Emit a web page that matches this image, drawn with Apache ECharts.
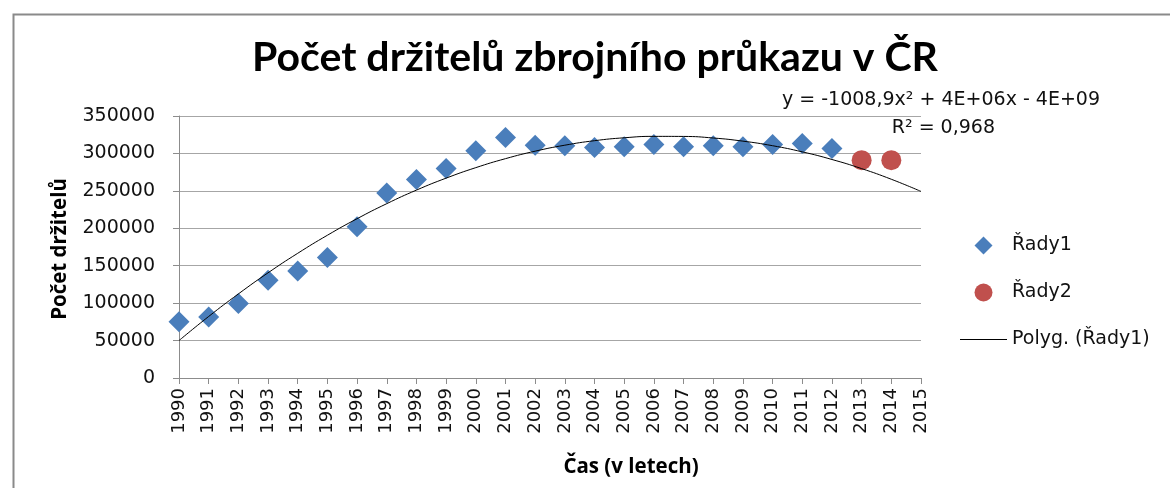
<!DOCTYPE html>
<html>
<head>
<meta charset="utf-8" />
<title>Počet držitelů zbrojního průkazu v ČR</title>
<script src="https://cdn.jsdelivr.net/npm/echarts@6/dist/echarts.min.js"></script>
<style>
  html, body { margin: 0; padding: 0; background: #fff; }
  #chart { width: 1170px; height: 488px; }
</style>
</head>
<body>
<div id="chart"></div>
<script>
// roky a počty držitelů
var roky1 = [1990, 1991, 1992, 1993, 1994, 1995, 1996, 1997, 1998, 1999, 2000, 2001,
             2002, 2003, 2004, 2005, 2006, 2007, 2008, 2009, 2010, 2011, 2012];
var rady1 = [75000, 81500, 99500, 130600, 143000, 161000, 201900, 247300, 265200, 280000, 303500, 321400,
             311000, 310200, 308000, 308800, 312000, 308800, 310200, 308800, 312000, 313300, 306700];
var roky2 = [2013, 2014];
var rady2 = [291000, 291000];
// polynomická spojnice trendu
var rokyTrend = [1990, 1991, 1992, 1993, 1994, 1995, 1996, 1997, 1998, 1999, 2000, 2001, 2002,
                 2003, 2004, 2005, 2006, 2007, 2008, 2009, 2010, 2011, 2012, 2013, 2014, 2015];
var trend = [50000, 82200, 112300, 140500, 166600, 190700, 212800, 232900, 251000, 267000, 281000, 293000, 303000,
             311000, 317000, 320900, 322800, 322700, 320600, 316400, 310300, 302100, 291900, 279700, 265500, 249250];

function pary(xs, ys) {
  var out = [];
  for (var i = 0; i < xs.length; i++) out.push([xs[i], ys[i]]);
  return out;
}

var chart = echarts.init(document.getElementById('chart'));
var font = 'DejaVu Sans';

chart.setOption({
  animation: false,
  backgroundColor: '#ffffff',
  grid: { left: 179, right: 249, top: 116, bottom: 110 },
  legend: {
    orient: 'vertical',
    left: 955,
    top: 231,
    itemWidth: 47,
    itemHeight: 18,
    itemGap: 28,
    symbolKeepAspect: true,
    textStyle: { fontFamily: font, fontSize: 19, color: '#111' },
    data: [
      { name: 'Řady1', icon: 'path://M0,-1L1,0L0,1L-1,0Z' },
      { name: 'Řady2', icon: 'circle' },
      { name: 'Polyg. (Řady1)', icon: 'path://M0,0L47,0L47,1.2L0,1.2Z' }
    ]
  },
  xAxis: {
    type: 'value',
    min: 1990,
    max: 2015,
    interval: 1,
    axisLine: { show: true, lineStyle: { color: '#8c8c8c' } },
    axisTick: { show: true, length: 6, lineStyle: { color: '#8c8c8c' } },
    splitLine: { show: false },
    axisLabel: {
      rotate: 90,
      margin: 10,
      fontFamily: font,
      fontSize: 18,
      color: '#111',
      formatter: function (v) { return String(v); }
    }
  },
  yAxis: {
    type: 'value',
    min: 0,
    max: 350000,
    interval: 50000,
    axisLine: { show: true, lineStyle: { color: '#8c8c8c' } },
    axisTick: { show: true, length: 6, lineStyle: { color: '#8c8c8c' } },
    splitLine: { show: true, lineStyle: { color: '#a6a6a6' } },
    axisLabel: {
      margin: 24,
      fontFamily: font,
      fontSize: 19,
      color: '#111',
      formatter: function (v) { return String(v); }
    }
  },
  series: [
    {
      name: 'Řady1',
      type: 'scatter',
      symbol: 'diamond',
      symbolSize: 21,
      itemStyle: { color: '#4a7ebb', opacity: 1 },
      data: pary(roky1, rady1),
      z: 3
    },
    {
      name: 'Řady2',
      type: 'scatter',
      symbol: 'circle',
      symbolSize: 20,
      itemStyle: { color: '#c0504d', opacity: 1 },
      data: pary(roky2, rady2),
      z: 3
    },
    {
      name: 'Polyg. (Řady1)',
      type: 'line',
      smooth: true,
      symbol: 'none',
      showSymbol: false,
      lineStyle: { color: '#000', width: 1 },
      itemStyle: { color: '#000' },
      data: pary(rokyTrend, trend),
      z: 4
    }
  ],
  graphic: [
    {
      type: 'rect',
      left: 11, top: 12,
      shape: { width: 1200, height: 520 },
      style: { fill: 'none', stroke: '#8a8a8a', lineWidth: 2 },
      z: -1
    },
    {
      type: 'text',
      x: 595, y: 58,
      style: {
        text: 'Počet držitelů zbrojního průkazu v ČR',
        font: 'bold 41px Lato',
        fill: '#000',
        align: 'center',
        verticalAlign: 'middle'
      }
    },
    {
      type: 'text',
      x: 60, y: 249,
      rotation: Math.PI / 2,
      style: {
        text: 'Počet držitelů',
        font: 'bold 20.5px "Open Sans"',
        fill: '#000',
        align: 'center',
        verticalAlign: 'middle'
      }
    },
    {
      type: 'text',
      x: 631, y: 467,
      style: {
        text: 'Čas (v letech)',
        font: 'bold 20.5px "Open Sans"',
        fill: '#000',
        align: 'center',
        verticalAlign: 'middle'
      }
    },
    {
      type: 'text',
      x: 1100, y: 100,
      style: {
        text: 'y = -1008,9x² + 4E+06x - 4E+09',
        font: '19px "DejaVu Sans"',
        fill: '#111',
        align: 'right',
        verticalAlign: 'middle'
      }
    },
    {
      type: 'text',
      x: 995, y: 128,
      style: {
        text: 'R² = 0,968',
        font: '19px "DejaVu Sans"',
        fill: '#111',
        align: 'right',
        verticalAlign: 'middle'
      }
    }
  ]
});
</script>
</body>
</html>
